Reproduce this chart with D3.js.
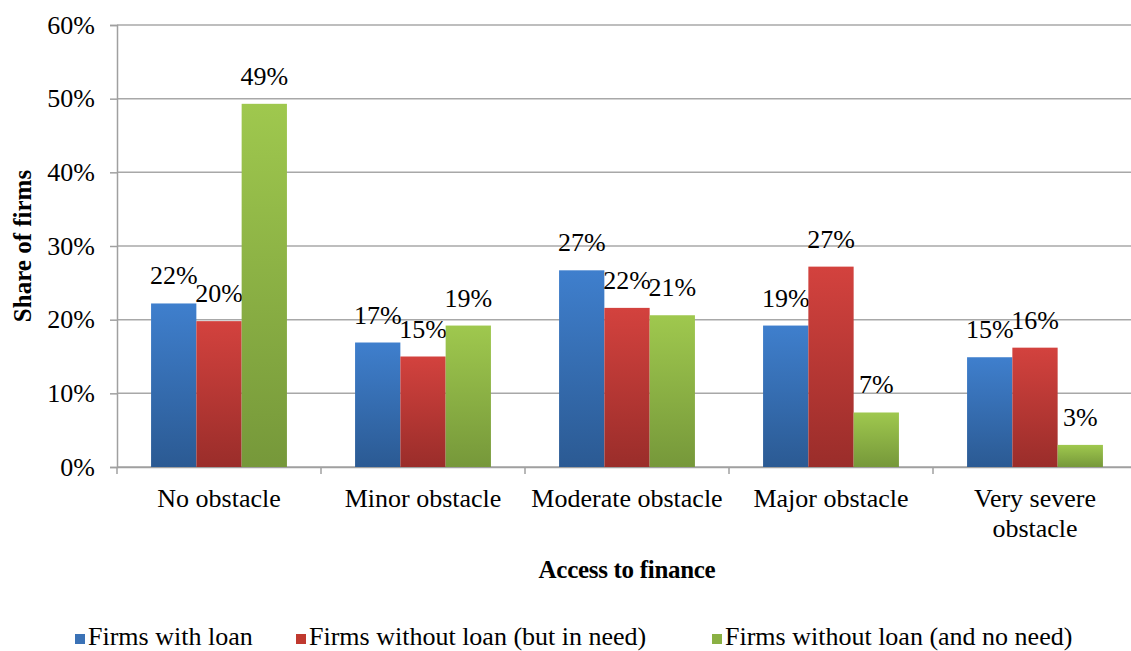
<!DOCTYPE html>
<html>
<head>
<meta charset="utf-8">
<script src="https://cdn.jsdelivr.net/npm/d3@7"></script>
<style>
  body { margin: 0; background: #fff; }
  svg text { font-family: "Liberation Serif", "DejaVu Serif", serif; fill: #000; }
</style>
</head>
<body>
<div id="chart"></div>
<script>
// --- data ---
var categories = ["No obstacle", "Minor obstacle", "Moderate obstacle", "Major obstacle", "Very severe obstacle"];
var seriesNames = ["Firms with loan", "Firms without loan (but in need)", "Firms without loan (and no need)"];
var withLoan = [22.2, 16.9, 26.7, 19.2, 14.9];
var withoutLoanNeed = [19.8, 15.0, 21.6, 27.2, 16.2];
var withoutLoanNoNeed = [49.3, 19.2, 20.6, 7.4, 3.0];
var yTicks = [0, 10, 20, 30, 40, 50, 60];

var series = [withLoan, withoutLoanNeed, withoutLoanNoNeed];
// gradient colors (top, bottom) per series
var colors = [["#3f7fcd", "#2b5a93"], ["#d3423e", "#9a2d2a"], ["#9fc84e", "#76983a"]];
var legendColors = ["#3b72b6", "#c0392f", "#8ab043"];
var FONT = "'Liberation Serif', 'DejaVu Serif', serif";

var W = 1131, H = 651;
var mLeft = 117, mRight = 1137, mTop = 25, mBottom = 467;

var svg = d3.select("#chart").append("svg")
  .attr("width", W).attr("height", H)
  .attr("font-family", FONT);

var defs = svg.append("defs");
colors.forEach(function (c, i) {
  var g = defs.append("linearGradient").attr("id", "grad" + i)
    .attr("x1", 0).attr("y1", 0).attr("x2", 0).attr("y2", 1);
  g.append("stop").attr("offset", "0%").attr("stop-color", c[0]);
  g.append("stop").attr("offset", "100%").attr("stop-color", c[1]);
});

var x = d3.scaleBand().domain(categories).range([mLeft, mRight]);
var y = d3.scaleLinear().domain([0, 60]).range([mBottom, mTop]);
var barW = x.bandwidth() * 0.222;

// gridlines
svg.append("g")
  .selectAll("line")
  .data(yTicks)
  .enter()
  .append("line")
  .attr("x1", mLeft).attr("x2", W)
  .attr("y1", function (d) { return y(d); })
  .attr("y2", function (d) { return y(d); })
  .attr("stroke", "#a8a8a8")
  .attr("stroke-width", 1.5);

// y axis
var yAxis = svg.append("g")
  .attr("transform", "translate(" + mLeft + ",0)")
  .call(d3.axisLeft(y).tickValues(yTicks).tickSize(7).tickPadding(15)
    .tickFormat(function (d) { return d + "%"; }));
yAxis.attr("font-family", FONT);
yAxis.selectAll("path, line").attr("stroke", "#a0a0a0").attr("stroke-width", 1.5);
yAxis.selectAll("text").attr("font-size", "26px").attr("fill", "#000");

// x axis
var xAxis = svg.append("g")
  .attr("transform", "translate(0," + mBottom + ")")
  .call(d3.axisBottom(x).tickSize(0).tickFormat(""));
xAxis.select("path").attr("stroke", "#a0a0a0").attr("stroke-width", 1.5);
// category boundary ticks
svg.append("g")
  .selectAll("line")
  .data(categories)
  .enter()
  .append("line")
  .attr("x1", function (d) { return x(d); })
  .attr("x2", function (d) { return x(d); })
  .attr("y1", mBottom).attr("y2", mBottom + 7)
  .attr("stroke", "#a0a0a0").attr("stroke-width", 1.5);

// category labels (wrap "Very severe obstacle")
categories.forEach(function (c) {
  var lines = c === "Very severe obstacle" ? ["Very severe", "obstacle"] : [c];
  var t = svg.append("text")
    .attr("x", x(c) + x.bandwidth() / 2)
    .attr("y", 507)
    .attr("text-anchor", "middle")
    .attr("font-size", "26px");
  lines.forEach(function (l, i) {
    t.append("tspan").attr("x", x(c) + x.bandwidth() / 2).attr("dy", i === 0 ? 0 : 30).text(l);
  });
});

// bars
series.forEach(function (vals, s) {
  var g = svg.append("g");
  g.selectAll("rect")
    .data(vals)
    .enter()
    .append("rect")
    .attr("x", function (d, i) { return x(categories[i]) + x.bandwidth() / 2 + (s - 1.5) * barW; })
    .attr("y", function (d) { return y(d); })
    .attr("width", barW)
    .attr("height", function (d) { return mBottom - y(d); })
    .attr("fill", "url(#grad" + s + ")");
  g.selectAll("text")
    .data(vals)
    .enter()
    .append("text")
    .attr("x", function (d, i) { return x(categories[i]) + x.bandwidth() / 2 + (s - 1) * barW; })
    .attr("y", function (d) { return y(d) - 19; })
    .attr("text-anchor", "middle")
    .attr("font-size", "26px")
    .text(function (d) { return Math.round(d) + "%"; });
});

// axis titles
svg.append("text")
  .attr("x", 627).attr("y", 578)
  .attr("text-anchor", "middle")
  .attr("font-size", "25px").attr("font-weight", "bold")
  .attr("letter-spacing", "-0.3px")
  .text("Access to finance");

svg.append("text")
  .attr("transform", "translate(31," + ((mTop + mBottom) / 2) + ") rotate(-90)")
  .attr("text-anchor", "middle")
  .attr("font-size", "25px").attr("font-weight", "bold")
  .text("Share of firms");

// legend
var legendX = [75, 296, 712];
seriesNames.forEach(function (n, i) {
  svg.append("rect")
    .attr("x", legendX[i]).attr("y", 634)
    .attr("width", 10).attr("height", 10)
    .attr("fill", legendColors[i]);
  svg.append("text")
    .attr("x", legendX[i] + 13).attr("y", 645)
    .attr("font-size", "26px")
    .text(n);
});
</script>
</body>
</html>
